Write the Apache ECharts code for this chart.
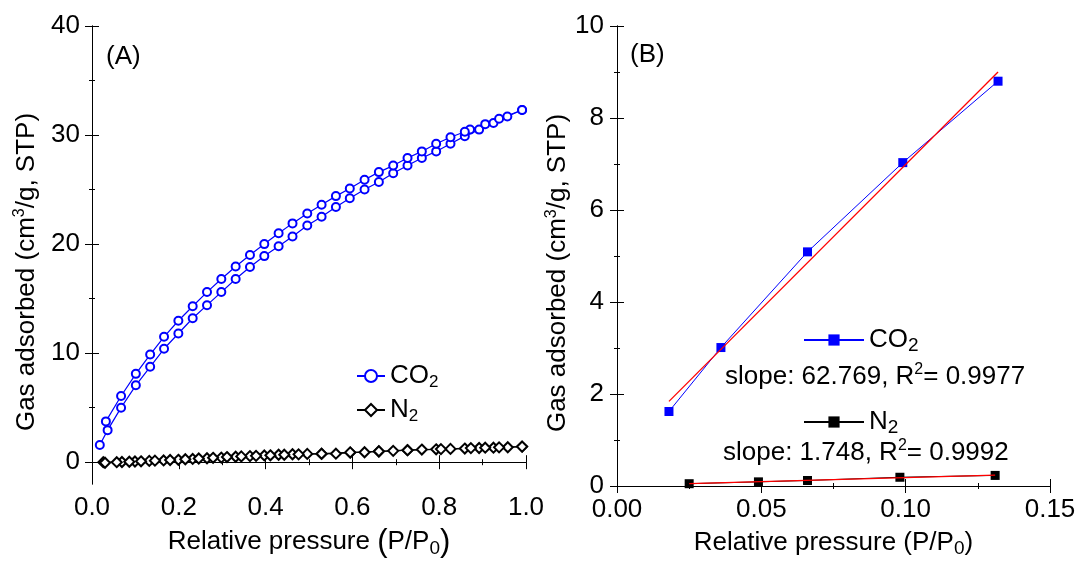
<!DOCTYPE html>
<html><head><meta charset="utf-8">
<script src="https://cdn.jsdelivr.net/npm/echarts@6/dist/echarts.min.js"></script>
<style>html,body{margin:0;padding:0;background:#fff}#c{width:1082px;height:563px}</style>
</head><body><div id="c"></div>
<script>
// ---- Panel A data ----
const co2AdsA = [[0.018,1.58],[0.036,2.94],[0.067,5.0],[0.101,7.05],[0.134,8.75],[0.166,10.4],[0.199,11.8],[0.232,13.2],[0.265,14.4],[0.298,15.6],[0.331,16.8],[0.364,17.9],[0.397,18.9],[0.430,19.8],[0.462,20.7],[0.496,21.7],[0.529,22.5],[0.562,23.4],[0.594,24.2],[0.628,25.0],[0.661,25.7],[0.694,26.5],[0.727,27.2],[0.760,27.9],[0.793,28.5],[0.826,29.2],[0.859,29.9],[0.892,30.5],[0.925,31.1],[0.957,31.7],[0.991,32.3]];
const co2DesA = [[0.991,32.3],[0.938,31.5],[0.906,31.0],[0.871,30.5],[0.859,30.3],[0.826,29.8],[0.793,29.2],[0.760,28.5],[0.727,27.9],[0.694,27.2],[0.661,26.6],[0.628,25.9],[0.594,25.1],[0.562,24.4],[0.529,23.6],[0.496,22.8],[0.462,21.9],[0.430,21.0],[0.397,20.0],[0.364,19.0],[0.331,17.95],[0.298,16.8],[0.265,15.6],[0.232,14.3],[0.199,12.97],[0.166,11.5],[0.134,9.87],[0.101,8.1],[0.067,6.07],[0.032,3.74]];
const n2AdsA = [[0.026,0.0],[0.069,0.02],[0.099,0.06],[0.132,0.12],[0.165,0.16],[0.199,0.22],[0.232,0.30],[0.265,0.36],[0.298,0.42],[0.331,0.50],[0.364,0.56],[0.397,0.62],[0.430,0.68],[0.462,0.73],[0.496,0.76],[0.529,0.76],[0.562,0.78],[0.595,0.88],[0.628,0.91],[0.661,0.98],[0.694,1.04],[0.727,1.10],[0.760,1.16],[0.793,1.18],[0.826,1.22],[0.859,1.25],[0.892,1.30],[0.925,1.33],[0.958,1.37],[0.991,1.43]];
const n2DesA = [[0.991,1.43],[0.938,1.36],[0.906,1.33],[0.873,1.29],[0.804,1.20],[0.727,1.10],[0.661,1.00],[0.595,0.90],[0.529,0.78],[0.476,0.72],[0.443,0.68],[0.411,0.63],[0.378,0.58],[0.344,0.53],[0.311,0.47],[0.279,0.40],[0.246,0.34],[0.215,0.27],[0.180,0.20],[0.145,0.14],[0.113,0.08],[0.086,0.04],[0.057,0.0],[0.030,-0.05]];
const xTicksA = [0,0.2,0.4,0.6,0.8,1.0];
const xMinorA = [0.1,0.3,0.5,0.7,0.9];
const yTicksA = [0,10,20,30,40];
const yMinorA = [5,15,25,35];

// ---- Panel B data ----
const co2B = [[0.018,1.62],[0.036,3.01],[0.066,5.09],[0.099,7.03],[0.132,8.80]];
const co2FitB = [[0.018,1.84],[0.132,9.0]];
const n2B = [[0.025,0.05],[0.049,0.09],[0.066,0.12],[0.098,0.19],[0.131,0.23]];
const n2FitB = [[0.025,0.05],[0.131,0.235]];
const xTicksB = [0,0.05,0.10,0.15];
const xMinorB = [0.025,0.075,0.125];
const yTicksB = [0,2,4,6,8,10];
const yMinorB = [1,3,5,7,9];
const slopeCO2 = 'slope: 62.769, R';
const r2CO2 = '= 0.9977';
const slopeN2 = 'slope: 1.748, R';
const r2N2 = '= 0.9992';

const FF = '"Liberation Sans", Arial, sans-serif';
const FS = 26;
const richBase = {
  n: {fontSize: FS, lineHeight: 30, fontFamily: FF, fontWeight: 'normal', color: '#000'},
  sub: {fontSize: 17, lineHeight: 17, verticalAlign: 'bottom', fontFamily: FF, fontWeight: 'normal', color: '#000'},
  bs: {fontSize: 19, lineHeight: 26, verticalAlign: 'bottom', fontFamily: FF, fontWeight: 'normal', color: '#000'},
  sup: {fontSize: 16, lineHeight: 16, verticalAlign: 'top', fontFamily: FF, fontWeight: 'normal', color: '#000'},
  p: {fontSize: 31, lineHeight: 32, fontFamily: FF, fontWeight: 'normal', color: '#000'}
};
const lineBlack = {color: '#000', width: 1};

function xAxes(grid, min, max, ticks, minor, fmt, name) {
  return [
    {gridIndex: grid, type: 'value', position: 'bottom', min, max,
     name, nameLocation: 'middle', nameGap: 42, nameTextStyle: {rich: richBase},
     axisLine: {show: true, lineStyle: lineBlack},
     axisTick: {show: true, customValues: ticks, length: 7, lineStyle: lineBlack},
     axisLabel: {show: true, customValues: ticks, formatter: fmt, margin: 11, fontSize: FS, fontFamily: FF, color: '#000'},
     splitLine: {show: false}},
    {gridIndex: grid, type: 'value', position: 'bottom', min, max,
     axisLine: {show: false}, axisTick: {show: true, customValues: minor, length: 3, lineStyle: lineBlack},
     axisLabel: {show: false}, splitLine: {show: false}},
    {gridIndex: grid, type: 'value', position: 'top', min, max,
     axisLine: {show: true, lineStyle: lineBlack},
     axisTick: {show: true, customValues: ticks, length: 7, lineStyle: lineBlack},
     axisLabel: {show: false}, splitLine: {show: false}},
    {gridIndex: grid, type: 'value', position: 'top', min, max,
     axisLine: {show: false}, axisTick: {show: true, customValues: minor, length: 3, lineStyle: lineBlack},
     axisLabel: {show: false}, splitLine: {show: false}}
  ];
}
function yAxes(grid, min, max, ticks, minor, name, gap, margin) {
  return [
    {gridIndex: grid, type: 'value', position: 'left', min, max,
     name, nameLocation: 'middle', nameGap: gap, nameRotate: 90,
     nameTextStyle: {rich: richBase, padding: [0, 34, 0, 0]},
     axisLine: {show: true, lineStyle: lineBlack},
     axisTick: {show: true, customValues: ticks, length: 7, lineStyle: lineBlack},
     axisLabel: {show: true, customValues: ticks, margin, fontSize: FS, fontFamily: FF, color: '#000'},
     splitLine: {show: false}},
    {gridIndex: grid, type: 'value', position: 'left', min, max,
     axisLine: {show: false}, axisTick: {show: true, customValues: minor, length: 3, lineStyle: lineBlack},
     axisLabel: {show: false}, splitLine: {show: false}},
    {gridIndex: grid, type: 'value', position: 'right', min, max,
     axisLine: {show: true, lineStyle: lineBlack},
     axisTick: {show: true, customValues: ticks, length: 7, lineStyle: lineBlack},
     axisLabel: {show: false}, splitLine: {show: false}},
    {gridIndex: grid, type: 'value', position: 'right', min, max,
     axisLine: {show: false}, axisTick: {show: true, customValues: minor, length: 3, lineStyle: lineBlack},
     axisLabel: {show: false}, splitLine: {show: false}}
  ];
}

const yName = '{n|Gas adsorbed (cm}{sup|3}{n|/g, STP)}';
const plainTitle = {fontSize: FS, fontWeight: 'normal', fontFamily: FF, color: '#000'};
const option = {
  animation: false,
  backgroundColor: '#fff',
  grid: [
    {left: 92, right: 556, top: 26, bottom: 75},
    {left: 617, right: 32, top: 26, bottom: 75}
  ],
  xAxis: [
    ...xAxes(0, 0, 1, xTicksA, xMinorA, v => v.toFixed(1), '{n|Relative pressure }{p|(}{n|P/P}{bs|0}{p|)}'),
    ...xAxes(1, 0, 0.15, xTicksB, xMinorB, v => v.toFixed(2), '{n|Relative pressure (P/P}{bs|0}{n|)}')
  ],
  yAxis: [
    ...yAxes(0, -2, 40, yTicksA, yMinorA, yName, 50, 12),
    ...yAxes(1, 0, 10, yTicksB, yMinorB, yName, 39, 13)
  ],
  title: [
    {text: '(A)', left: 106, top: 44, padding: 0, textStyle: plainTitle},
    {text: '(B)', left: 630, top: 42, padding: 0, textStyle: plainTitle},
    {text: '{n|' + slopeCO2 + '}{sup|2}{n|' + r2CO2 + '}', left: 725, top: 362, padding: 0, textStyle: {fontWeight: 'normal', rich: richBase}},
    {text: '{n|' + slopeN2 + '}{sup|2}{n|' + r2N2 + '}', left: 723, top: 438, padding: 0, textStyle: {fontWeight: 'normal', rich: richBase}}
  ],
  legend: [
    {data: ['CO2_A'], left: 356, top: 363, orient: 'vertical', padding: 0, itemWidth: 28, itemHeight: 15, selectedMode: false,
     formatter: () => '{n|CO}{sub|2}', textStyle: {rich: richBase}},
    {data: ['N2_A'], left: 356, top: 397, orient: 'vertical', padding: 0, itemWidth: 28, itemHeight: 15, selectedMode: false,
     formatter: () => '{n|N}{sub|2}', textStyle: {rich: richBase}},
    {data: ['CO2_B'], left: 803, top: 327, orient: 'vertical', padding: 0, itemWidth: 60, itemHeight: 14, selectedMode: false,
     formatter: () => '{n|CO}{bs|2}', textStyle: {rich: richBase}},
    {data: ['N2_B'], left: 803, top: 409, orient: 'vertical', padding: 0, itemWidth: 60, itemHeight: 14, selectedMode: false,
     formatter: () => '{n|N}{bs|2}', textStyle: {rich: richBase}}
  ],
  series: [
    {name: 'CO2_A', type: 'line', xAxisIndex: 0, yAxisIndex: 0, data: co2AdsA, symbol: 'emptyCircle', symbolSize: 8,
     lineStyle: {color: '#0000ff', width: 1.2}, itemStyle: {color: '#0000ff', borderWidth: 1}, z: 3},
    {name: 'CO2_A', type: 'line', xAxisIndex: 0, yAxisIndex: 0, data: co2DesA, symbol: 'emptyCircle', symbolSize: 8,
     lineStyle: {color: '#0000ff', width: 1.2}, itemStyle: {color: '#0000ff', borderWidth: 1}, z: 3},
    {name: 'N2_A', type: 'line', xAxisIndex: 0, yAxisIndex: 0, data: n2AdsA, symbol: 'emptyDiamond', symbolSize: 10,
     lineStyle: {color: '#000', width: 1.2}, itemStyle: {color: '#000', borderWidth: 1}, z: 2},
    {name: 'N2_A', type: 'line', xAxisIndex: 0, yAxisIndex: 0, data: n2DesA, symbol: 'emptyDiamond', symbolSize: 10,
     lineStyle: {color: '#000', width: 1.2}, itemStyle: {color: '#000', borderWidth: 1}, z: 2},
    {name: 'CO2_B', type: 'line', xAxisIndex: 4, yAxisIndex: 4, data: co2B, symbol: 'rect', symbolSize: 9,
     lineStyle: {color: '#0000ff', width: 1}, itemStyle: {color: '#0000ff'}, z: 3},
    {name: 'CO2fit', type: 'line', xAxisIndex: 4, yAxisIndex: 4, data: co2FitB, symbol: 'none',
     lineStyle: {color: '#ff0000', width: 1.3}, z: 4},
    {name: 'N2_B', type: 'line', xAxisIndex: 4, yAxisIndex: 4, data: n2B, symbol: 'rect', symbolSize: 9,
     lineStyle: {color: '#000', width: 1}, itemStyle: {color: '#000'}, z: 3},
    {name: 'N2fit', type: 'line', xAxisIndex: 4, yAxisIndex: 4, data: n2FitB, symbol: 'none',
     lineStyle: {color: '#ff0000', width: 1.3}, z: 4}
  ]
};
const chart = echarts.init(document.getElementById('c'), null, {renderer: 'canvas'});
chart.setOption(option);
</script></body></html>
